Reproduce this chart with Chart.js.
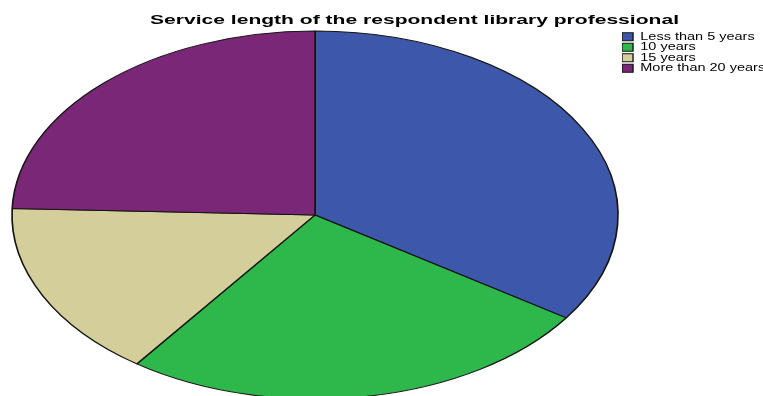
<!DOCTYPE html>
<html>
<head>
<meta charset="utf-8">
<script src="https://cdn.jsdelivr.net/npm/chart.js@4"></script>
<style>
html,body{margin:0;padding:0;background:#fff;overflow:hidden;}
canvas{display:block;}
</style>
</head>
<body>
<canvas id="c" width="763" height="396"></canvas>
<script>
const categories = ["Less than 5 years", "10 years", "15 years", "More than 20 years"];
const counts = [31, 23, 14, 22];
const sliceColors = ["#3D58AB", "#2EB74A", "#D3CE9A", "#7B2777"];
const chartTitle = "Service length of the respondent library professional";

// The reference image is stretched horizontally; mimic that.
const ellipse = {cx: 315, cy: 215, rx: 303, ry: 184};
const titleStretch = 1.62;
const legendStretch = 1.38;
const legendAnchorX = 622;

const stretchPlugin = {
  id: 'stretch',
  beforeDatasetsDraw(chart) {
    const arc = chart.getDatasetMeta(0).data[0];
    if (!arc) return;
    const ctx = chart.ctx;
    const r = arc.outerRadius;
    ctx.save();
    ctx.translate(ellipse.cx, ellipse.cy);
    ctx.scale(ellipse.rx / r, ellipse.ry / r);
    ctx.translate(-arc.x, -arc.y);
  },
  afterDatasetsDraw(chart) {
    chart.ctx.restore();
  },
  afterLayout(chart) {
    const t = chart.titleBlock;
    if (t && !t._stretched) {
      const orig = t.draw;
      t.draw = function (area) {
        const ctx = chart.ctx;
        const cx = (this.left + this.right) / 2;
        ctx.save();
        ctx.translate(cx, 0);
        ctx.scale(titleStretch, 1);
        ctx.translate(-cx, 0);
        orig.call(this, area);
        ctx.restore();
      };
      t._stretched = true;
    }
    const l = chart.legend;
    if (l && !l._stretched) {
      const origL = l.draw;
      l.draw = function (area) {
        const ctx = chart.ctx;
        const hb = this.legendHitBoxes && this.legendHitBoxes[0];
        const ax = hb ? hb.left : this.left;
        ctx.save();
        ctx.translate(legendAnchorX, 0);
        ctx.scale(legendStretch, 1);
        ctx.translate(-ax, 0);
        origL.call(this, area);
        ctx.restore();
      };
      l._stretched = true;
    }
  }
};

new Chart(document.getElementById('c'), {
  type: 'pie',
  data: {
    labels: categories,
    datasets: [{
      data: counts,
      backgroundColor: sliceColors,
      borderColor: '#151515',
      borderWidth: 1
    }]
  },
  options: {
    responsive: false,
    animation: false,
    events: [],
    layout: {padding: {left: 66, right: 0, top: 0, bottom: 0}},
    plugins: {
      title: {
        display: true,
        text: chartTitle,
        color: '#000',
        font: {family: "Arial, 'Liberation Sans', sans-serif", size: 13, weight: 'bold'},
        padding: {top: 13, bottom: 3}
      },
      legend: {
        position: 'right',
        align: 'start',
        fullSize: false,
        labels: {
          color: '#000',
          font: {family: "Arial, 'Liberation Sans', sans-serif", size: 10.5},
          boxWidth: 8,
          boxHeight: 8,
          padding: 0
        }
      },
      tooltip: {enabled: false}
    }
  },
  plugins: [stretchPlugin]
});
</script>
</body>
</html>
